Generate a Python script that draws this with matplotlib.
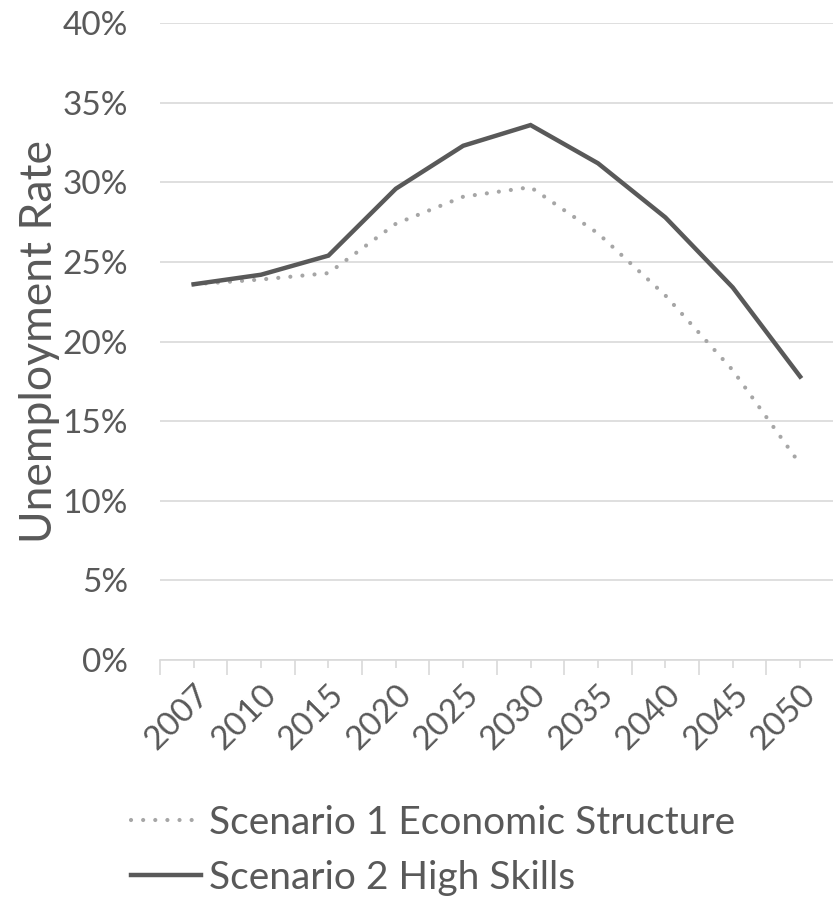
import matplotlib
matplotlib.use("Agg")
import matplotlib.pyplot as plt
from matplotlib.ticker import FixedLocator, PercentFormatter

plt.rcParams['font.family'] = ['Lato', 'DejaVu Sans']

years = ['2007', '2010', '2015', '2020', '2025', '2030', '2035', '2040', '2045', '2050']
scenario1 = [23.6, 23.9, 24.3, 27.4, 29.1, 29.7, 26.8, 22.9, 18.2, 12.3]
scenario2 = [23.6, 24.2, 25.4, 29.6, 32.3, 33.6, 31.2, 27.8, 23.4, 17.8]
labels = ['Scenario 1 Economic Structure', 'Scenario 2 High Skills']

text_col = '#595959'
grid_col = '#d9d9d9'

fig = plt.figure(figsize=(8.33, 9.02), dpi=100)
ax = fig.add_axes([0.192, 0.2683, 0.809, 0.706])

x = range(len(years))
l1, = ax.plot(x, scenario1, color='#a6a6a6', lw=3.0,
              linestyle=(0, (0.01, 2.9)), dash_capstyle='round', solid_capstyle='round')
l2, = ax.plot(x, scenario2, color='#595959', lw=3.2, solid_joinstyle='miter')

ax.set_xlim(-0.5, len(years) - 0.5)
ax.set_ylim(0, 40)
ax.set_yticks(range(0, 41, 5))
ax.yaxis.set_major_formatter(PercentFormatter(decimals=0))
ax.grid(axis='y', color=grid_col, lw=1.2)
ax.set_axisbelow(True)

# category boundaries get the long ticks, centres the short ones
ax.xaxis.set_major_locator(FixedLocator([i - 0.5 for i in range(len(years) + 1)]))
ax.xaxis.set_minor_locator(FixedLocator(list(x)))
ax.xaxis.set_major_formatter(plt.NullFormatter())
ax.xaxis.set_minor_formatter(plt.FixedFormatter(years))
ax.tick_params(axis='x', which='major', length=11, width=1.2, color=grid_col, direction='out')
ax.tick_params(axis='x', which='minor', length=6, width=1.2, color=grid_col, direction='out')
ax.tick_params(axis='x', which='minor', labelsize=24, labelcolor=text_col, pad=8)
ax.tick_params(axis='y', length=0, labelsize=24, labelcolor=text_col, pad=23)
for lab in ax.get_xticklabels(minor=True):
    lab.set_rotation(45)
    lab.set_ha('right')
    lab.set_va('top')
    lab.set_rotation_mode('anchor')

for side in ['top', 'right', 'left']:
    ax.spines[side].set_visible(False)
ax.spines['bottom'].set_color(grid_col)
ax.spines['bottom'].set_linewidth(1.2)

ax.set_ylabel('Unemployment Rate', fontsize=32, color=text_col, labelpad=2)

fig.legend([l1, l2], labels, loc='upper left', bbox_to_anchor=(0.134, 0.129),
           frameon=False, fontsize=28, labelcolor=text_col, handlelength=1.8,
           handletextpad=0.2, labelspacing=0.48, borderpad=0)

fig.savefig('out.png', dpi=100)
